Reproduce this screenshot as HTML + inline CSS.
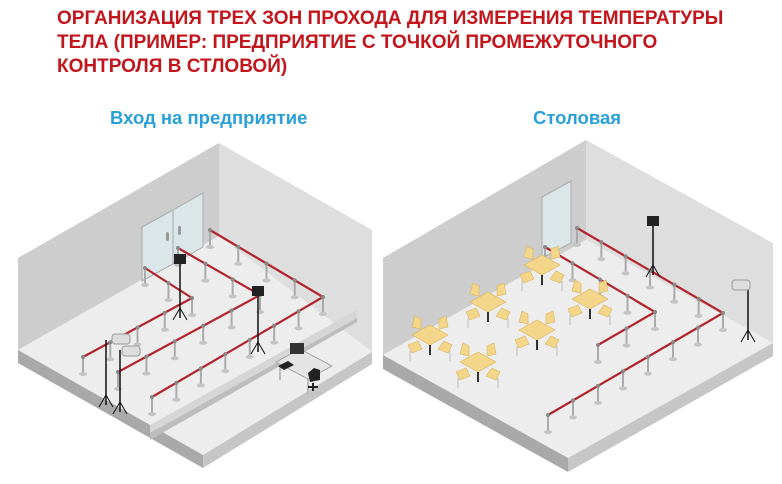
<!DOCTYPE html>
<html><head><meta charset="utf-8"><style>
html,body{margin:0;padding:0;background:#fff;width:782px;height:484px;overflow:hidden}
.t{position:absolute;left:57px;top:7px;font:bold 19px/24px "Liberation Sans","Noto Sans CJK SC",sans-serif;color:#c3161c;width:740px;white-space:nowrap}
.s{position:absolute;font:bold 18.5px "Liberation Sans",sans-serif;color:#2aa0d8;top:107px}
svg{position:absolute;left:0;top:0}
</style></head><body>
<svg id="g" width="782" height="484" viewBox="0 0 782 484">
<!-- left room -->
<polygon points="18,258 219,143 219,236 18,350" fill="#cdcdcd"/>
<polygon points="219,143 372,230 372,352 219,236" fill="#dedede"/>
<polygon points="18,350 219,236 372,352 203,455" fill="#ededed"/>
<polygon points="18,350 203,455 203,468 18,363" fill="#a9a9a9"/>
<polygon points="203,455 372,352 372,364 203,468" fill="#c6c6c6"/>
<polygon points="150,425 357,310 357,318 150,433" fill="#d6d6d6"/>
<polygon points="150,433 357,318 357,322 150,440" fill="#bdbdbd"/>
<polygon points="142,227 173,210 173,264 142,281" fill="#dbe6e8" stroke="#aaa" stroke-width="1"/>
<polygon points="173,210 203,193 203,247 173,264" fill="#dbe6e8" stroke="#aaa" stroke-width="1"/>
<rect x="166" y="232" width="3" height="9" rx="1.5" fill="#999"/><rect x="178" y="226" width="3" height="9" rx="1.5" fill="#999"/>
<!-- desk -->
<polygon points="276,362 300,349 332,366 308,379" fill="#e4e4e4" stroke="#999" stroke-width=".8"/>
<line x1="280" y1="364" x2="280" y2="380" stroke="#bbb" stroke-width="2"/><line x1="308" y1="379" x2="308" y2="395" stroke="#bbb" stroke-width="2"/>
<rect x="290" y="343" width="14" height="11" fill="#333"/>
<polygon points="278,366 288,361 294,365 284,370" fill="#222"/>
<path d="M308 373 l6 -5 l6 2 l0 10 l-10 2z" fill="#222"/><path d="M308 387 l10 0 M313 383 l0 8" stroke="#222" stroke-width="2"/>
<!-- right room -->
<polygon points="383,258 586,140 586,240 383,355" fill="#cdcdcd"/>
<polygon points="586,140 773,243 773,343 586,240" fill="#dedede"/>
<polygon points="383,355 586,240 773,343 568,458" fill="#ededed"/>
<polygon points="383,355 568,458 568,472 383,369" fill="#a9a9a9"/>
<polygon points="568,458 773,343 773,356 568,472" fill="#c6c6c6"/>
<polygon points="542,197 571,181 571,243 542,258" fill="#dbe6e8" stroke="#aaa" stroke-width="1"/>
<g id="dyn"></g>
</svg>
<div class="t">ОРГАНИЗАЦИЯ ТРЕХ ЗОН ПРОХОДА ДЛЯ ИЗМЕРЕНИЯ ТЕМПЕРАТУРЫ<br>ТЕЛА (ПРИМЕР: ПРЕДПРИЯТИЕ С ТОЧКОЙ ПРОМЕЖУТОЧНОГО<br>КОНТРОЛЯ В СТЛОВОЙ)</div>
<div class="s" style="left:110px">Вход на предприятие</div>
<div class="s" style="left:533px">Столовая</div>
<script>
var d=document.getElementById('dyn'),h='';
function rope(p){var s='';for(var i=0;i<p.length;i++)s+=p[i][0]+','+p[i][1]+' ';
 h+='<polyline points="'+s+'" fill="none" stroke="#b3232b" stroke-width="2.2"/>';
 for(var i=0;i<p.length-1;i++){var a=p[i],b=p[i+1],n=Math.max(1,Math.round(Math.hypot(b[0]-a[0],b[1]-a[1])/30));
  for(var k=0;k<n;k++){var x=a[0]+(b[0]-a[0])*k/n,y=a[1]+(b[1]-a[1])*k/n;post(x,y);}}
 post(p[p.length-1][0],p[p.length-1][1]);}
function post(x,y){h+='<line x1="'+x+'" y1="'+y+'" x2="'+x+'" y2="'+(y+17)+'" stroke="#aaa" stroke-width="2"/><circle cx="'+x+'" cy="'+y+'" r="2" fill="#888"/><ellipse cx="'+x+'" cy="'+(y+17)+'" rx="4" ry="2" fill="#c4c4c4"/>';}
function tri(x,y,top){h+='<line x1="'+x+'" y1="'+top+'" x2="'+x+'" y2="'+y+'" stroke="#111" stroke-width="1.5"/><line x1="'+x+'" y1="'+(y-10)+'" x2="'+(x-7)+'" y2="'+(y+2)+'" stroke="#111"/><line x1="'+x+'" y1="'+(y-10)+'" x2="'+(x+7)+'" y2="'+(y+2)+'" stroke="#111"/>';}
function cam(x,y){h+='<rect x="'+(x-6)+'" y="'+(y-6)+'" width="12" height="10" fill="#222"/>';}
function table(x,y){
 var c='#f3d68a',e='#d9b45c';
 h+='<polygon points="'+(x-18)+','+(y-16)+' '+(x-15)+','+(y-27)+' '+(x-9)+','+(y-24)+' '+(x-9)+','+(y-14)+'" fill="'+c+'" stroke="'+e+'" stroke-width=".6"/>';
 h+='<polygon points="'+(x+9)+','+(y-14)+' '+(x+9)+','+(y-24)+' '+(x+16)+','+(y-27)+' '+(x+18)+','+(y-16)+'" fill="'+c+'" stroke="'+e+'" stroke-width=".6"/>';
 h+='<polygon points="'+(x-18)+','+(y-8)+' '+x+','+(y-18)+' '+(x+18)+','+(y-8)+' '+x+','+(y+2)+'" fill="'+c+'" stroke="'+e+'" stroke-width=".6"/>';
 h+='<line x1="'+x+'" y1="'+(y+2)+'" x2="'+x+'" y2="'+(y+12)+'" stroke="#333" stroke-width="2"/>';
 h+='<polygon points="'+(x-22)+','+(y+2)+' '+(x-12)+','+(y-2)+' '+(x-8)+','+(y+6)+' '+(x-18)+','+(y+10)+'" fill="'+c+'" stroke="'+e+'" stroke-width=".6"/>';
 h+='<polygon points="'+(x+8)+','+(y+6)+' '+(x+14)+','+(y-2)+' '+(x+22)+','+(y+2)+' '+(x+18)+','+(y+10)+'" fill="'+c+'" stroke="'+e+'" stroke-width=".6"/>';
 h+='<line x1="'+(x-20)+'" y1="'+(y+8)+'" x2="'+(x-20)+'" y2="'+(y+18)+'" stroke="#bbb"/><line x1="'+(x+20)+'" y1="'+(y+8)+'" x2="'+(x+20)+'" y2="'+(y+18)+'" stroke="#bbb"/>';}
rope([[210,230],[323,297],[152,397]]);
rope([[178,248],[260,295],[118,372]]);
rope([[145,268],[192,298],[83,357]]);
tri(180,318,260);cam(180,260);tri(258,352,295);cam(258,292);
tri(106,405,340);tri(120,412,350);
h+='<rect x="112" y="334" width="18" height="10" rx="3" fill="#ddd" stroke="#999"/><rect x="122" y="346" width="18" height="10" rx="3" fill="#ddd" stroke="#999"/>';
rope([[577,228],[723,313],[548,415]]);
rope([[545,247],[655,312],[598,345]]);
tri(653,275,225);cam(653,222);tri(748,340,290);
h+='<rect x="732" y="280" width="18" height="10" rx="3" fill="#ddd" stroke="#999"/>';
table(430,343);table(488,310);table(542,273);table(590,307);table(537,338);table(478,370);
d.innerHTML=h;
</script>
</body></html>
